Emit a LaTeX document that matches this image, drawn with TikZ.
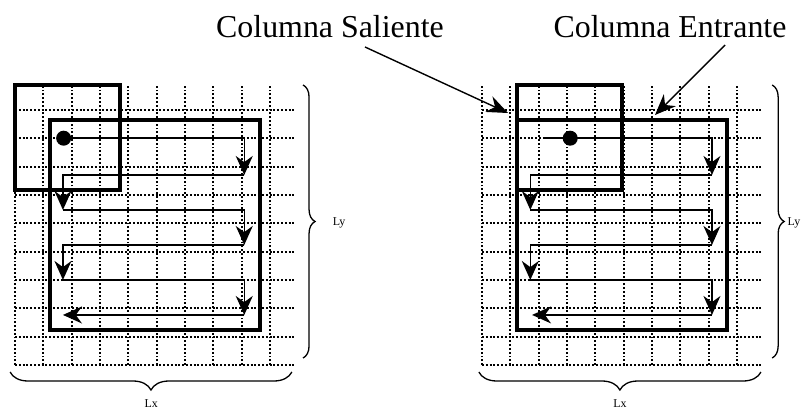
\documentclass[tikz,border=0pt]{standalone}
\usepackage{fontspec}
\setmainfont{Liberation Serif}
\usetikzlibrary{arrows.meta}
\usetikzlibrary{decorations.pathreplacing}

\begin{document}
\begin{tikzpicture}[x=1bp, y=1bp,
  rejilla/.style={line width=1.9bp, dash pattern=on 1.9bp off 1.9bp},
  caja/.style={line width=3.8bp},
  recorrido/.style={line width=1.4bp, -{Stealth[length=19bp, width=17bp]}},
  llave/.style={decorate, decoration={brace, amplitude=#1}, line width=1.3bp},
  llave/.default=12bp,
  flecha/.style={line width=1.4bp, -{Stealth[length=21bp, width=17bp]}},
  titulo/.style={font=\fontsize{32}{38}\selectfont, anchor=base},
  medida/.style={font=\fontsize{12}{14}\selectfont, inner sep=1bp},
  punto/.style={circle, fill, inner sep=0pt, minimum size=15bp}]
  \useasboundingbox (0,0) rectangle (803,410);

  % Rejilla izquierda
  \begin{scope}[shift={(15bp,45bp)}, x=35bp, y=35bp]
    \draw[rejilla] (0,0) grid (8,8);
    \draw[caja] (0,8) rectangle (3,5);
    \draw[caja] (1,7) rectangle (7,1);
    \node[punto] (inicioA) at (1.39,6.48) {};
    \draw[recorrido] (inicioA.center) -| (6.55,5.43);
    \foreach \ya/\yb/\xa/\xb in {5.43/4.43/6.55/1.37, 4.43/3.43/1.37/6.55,
                                 3.43/2.43/6.55/1.37, 2.43/1.43/1.37/6.55}
      \draw[recorrido] (\xa,\ya) -| (\xb,\yb);
    \draw[recorrido] (6.55,1.43) -- (1.37,1.43);
    % Llaves
    \draw[llave] (8.23,8) -- (8.23,0.2);
    \node[medida] (lyA) at (9.26,4.06) {Ly};
    \draw[llave=18bp] (7.91,-0.2) -- (-0.14,-0.2);
    \node[medida] (lxA) at (3.89,-1.11) {Lx};
  \end{scope}

  % Rejilla derecha
  \begin{scope}[shift={(482bp,45bp)}, x=35bp, y=35bp]
    \draw[rejilla] (0,0) grid (8,8);
    \draw[caja] (1,8) rectangle (4,5);
    \draw[caja] (1,7) rectangle (7,1);
    \draw[recorrido] (1.76,6.48) -| (6.57,5.43);
    \node[punto] (inicioB) at (2.52,6.48) {};
    \foreach \ya/\yb/\xa/\xb in {5.43/4.43/6.57/1.38, 4.43/3.43/1.38/6.57,
                                 3.43/2.43/6.57/1.38, 2.43/1.43/1.38/6.57}
      \draw[recorrido] (\xa,\ya) -| (\xb,\yb);
    \draw[recorrido] (6.57,1.43) -- (1.43,1.43);
    % Llaves
    \draw[llave] (8.29,8) -- (8.29,0.2);
    \node[medida, anchor=east] (lyB) at (9.13,4.06) {Ly};
    \draw[llave=18bp] (7.97,-0.2) -- (-0.09,-0.2);
    \node[medida] (lxB) at (3.94,-1.11) {Lx};
  \end{scope}

  % Rotulos
  \node[titulo] (saliente) at (330,373) {Columna Saliente};
  \node[titulo] (entrante) at (670,373) {Columna Entrante};
  \coordinate (salDesde) at (365,363);
  \coordinate (salHasta) at (508,297);
  \coordinate (entDesde) at (725,365);
  \coordinate (entHasta) at (655,295);
  \draw[flecha] (salDesde) -- (salHasta);
  \draw[flecha] (entDesde) -- (entHasta);
\end{tikzpicture}
\end{document}
